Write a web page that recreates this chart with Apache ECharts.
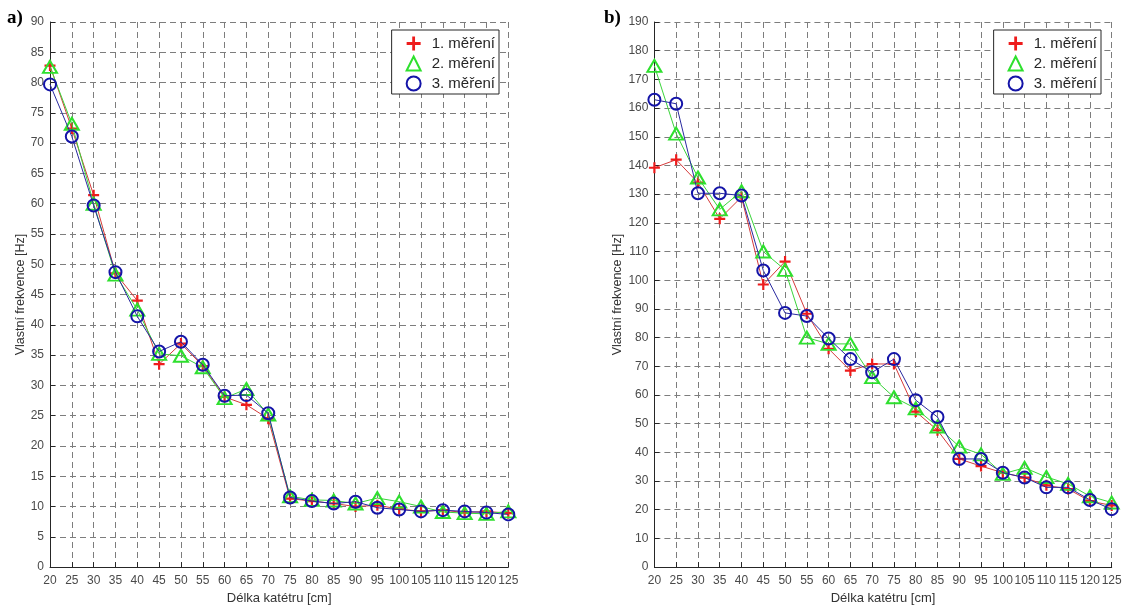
<!DOCTYPE html>
<html>
<head>
<meta charset="utf-8">
<script src="https://cdn.jsdelivr.net/npm/echarts@6/dist/echarts.min.js"></script>
<style>
  html, body { margin: 0; padding: 0; background: #fff; }
  #chart { width: 1125px; height: 610px; }
</style>
</head>
<body>
<div id="chart"></div>
<script>
// Catheter length [cm]
const lengths = [20, 25, 30, 35, 40, 45, 50, 55, 60, 65, 70, 75, 80, 85, 90, 95, 100, 105, 110, 115, 120, 125];

// a) natural frequency [Hz]
const aRun1 = [82.8, 72.4, 61.4, 48.5, 44.0, 33.5, 36.9, 33.2, 28.1, 26.8, 24.5, 11.3, 10.9, 10.5, 10.0, 10.2, 9.6, 9.2, 9.4, 9.0, 9.2, 8.9];
const aRun2 = [82.6, 73.2, 60.0, 48.3, 42.5, 35.2, 34.9, 33.0, 27.9, 29.4, 25.2, 11.7, 11.1, 11.0, 10.5, 11.4, 10.8, 10.0, 9.1, 8.9, 8.8, 9.2];
const aRun3 = [79.7, 71.1, 59.7, 48.7, 41.4, 35.6, 37.2, 33.4, 28.3, 28.4, 25.4, 11.5, 10.9, 10.5, 10.8, 9.8, 9.5, 9.2, 9.4, 9.2, 9.0, 8.7];

// b) natural frequency [Hz]
const bRun1 = [139.2, 142.0, 134.0, 121.4, 129.0, 98.5, 106.5, 88.3, 76.1, 68.5, 70.8, 70.8, 54.2, 47.7, 37.7, 35.2, 32.9, 31.2, 28.5, 27.2, 23.0, 21.5];
const bRun2 = [174.7, 151.1, 135.8, 124.7, 131.0, 110.0, 103.6, 80.0, 77.8, 77.8, 66.2, 59.2, 55.3, 49.0, 42.0, 39.3, 32.5, 34.6, 31.4, 29.0, 24.7, 22.5];
const bRun3 = [162.9, 161.5, 130.3, 130.3, 129.5, 103.4, 88.6, 87.5, 79.7, 72.5, 67.9, 72.5, 58.2, 52.3, 37.7, 37.7, 32.9, 31.2, 27.8, 27.8, 23.4, 20.2];

const names = ['1. měření', '2. měření', '3. měření'];

const FONT = '"Liberation Sans", Arial, sans-serif';
const RED = '#ee1c1c', GREEN = '#2ee02e', BLUE = '#1414a8';
const PLUS = 'path://M4,0H6V4H10V6H6V10H4V6H0V4H4Z';
const GRID_LINE = { color: '#7d7d7d', type: [6, 4], width: 1 };

function pairs(ys) { return lengths.map((x, i) => [x, ys[i]]); }

function xAxis(gridIndex) {
  return {
    gridIndex, type: 'value', min: 20, max: 125, interval: 5,
    name: 'Délka katétru [cm]', nameLocation: 'middle', nameGap: 21,
    nameTextStyle: { fontFamily: FONT, fontSize: 13, color: '#333' },
    axisLine: { lineStyle: { color: '#262626', width: 1 } },
    axisTick: { inside: true, length: 5, lineStyle: { color: '#262626' } },
    axisLabel: { fontFamily: FONT, fontSize: 12, color: '#4a4a4a', margin: 8 },
    splitLine: { show: true, lineStyle: GRID_LINE }
  };
}
function yAxis(gridIndex, max, interval) {
  return {
    gridIndex, type: 'value', min: 0, max, interval,
    name: 'Vlastní frekvence [Hz]', nameLocation: 'middle', nameGap: 21,
    nameTextStyle: { fontFamily: FONT, fontSize: 12.5, color: '#333' },
    axisLine: { show: true, lineStyle: { color: '#262626', width: 1 } },
    axisTick: { show: true, inside: true, length: 5, lineStyle: { color: '#262626' } },
    axisLabel: { fontFamily: FONT, fontSize: 12, color: '#4a4a4a', margin: 6 },
    splitLine: { show: true, lineStyle: GRID_LINE }
  };
}
function seriesSet(idx, r1, r2, r3) {
  return [
    { name: names[0], type: 'line', xAxisIndex: idx, yAxisIndex: idx, data: pairs(r1),
      symbol: PLUS, symbolSize: 11, z: 2,
      itemStyle: { color: RED },
      lineStyle: { color: '#d63a3a', width: 1 } },
    { name: names[1], type: 'line', xAxisIndex: idx, yAxisIndex: idx, data: pairs(r2),
      symbol: 'triangle', symbolSize: [14, 12], z: 3,
      itemStyle: { color: 'rgba(0,0,0,0)', borderColor: GREEN, borderWidth: 2 },
      lineStyle: { color: '#3ad43a', width: 1 } },
    { name: names[2], type: 'line', xAxisIndex: idx, yAxisIndex: idx, data: pairs(r3),
      symbol: 'circle', symbolSize: 12, z: 4,
      itemStyle: { color: 'rgba(0,0,0,0)', borderColor: BLUE, borderWidth: 2 },
      lineStyle: { color: '#2a2aa0', width: 1 } }
  ].map(s => Object.assign(s, { showAllSymbol: true, animation: false, emphasis: { disabled: true } }));
}
function legend(right) {
  return {
    top: 30, right, orient: 'vertical', itemGap: 3, itemWidth: 14, itemHeight: 14,
    padding: [5, 4, 2, 14], borderColor: '#262626', borderWidth: 1, backgroundColor: '#fff',
    textStyle: { fontFamily: FONT, fontSize: 15, color: '#262626', lineHeight: 17, padding: [0, 0, 0, 6] },
    selectedMode: false,
    data: [
      { name: names[0], icon: PLUS, itemStyle: { color: RED } },
      { name: names[1], icon: 'triangle', itemStyle: { color: 'rgba(0,0,0,0)', borderColor: GREEN, borderWidth: 2 } },
      { name: names[2], icon: 'circle', itemStyle: { color: 'rgba(0,0,0,0)', borderColor: BLUE, borderWidth: 2 } }
    ]
  };
}

const chart = echarts.init(document.getElementById('chart'), null, { renderer: 'canvas' });
chart.setOption({
  backgroundColor: '#fff',
  animation: false,
  grid: [
    { left: 50, right: 616.7, top: 22, bottom: 40.5 },
    { left: 654.4, right: 13.3, top: 22, bottom: 40.5 }
  ],
  xAxis: [xAxis(0), xAxis(1)],
  yAxis: [yAxis(0, 90, 5), yAxis(1, 190, 10)],
  legend: [legend(1125 - 499), legend(1125 - 1101)],
  graphic: [
    { type: 'text', left: 7, top: 9, style: { text: 'a)', font: 'bold 19px "Liberation Serif", "Times New Roman", serif', fill: '#000' } },
    { type: 'text', left: 604, top: 9, style: { text: 'b)', font: 'bold 19px "Liberation Serif", "Times New Roman", serif', fill: '#000' } }
  ],
  series: [...seriesSet(0, aRun1, aRun2, aRun3), ...seriesSet(1, bRun1, bRun2, bRun3)]
});
</script>
</body>
</html>
